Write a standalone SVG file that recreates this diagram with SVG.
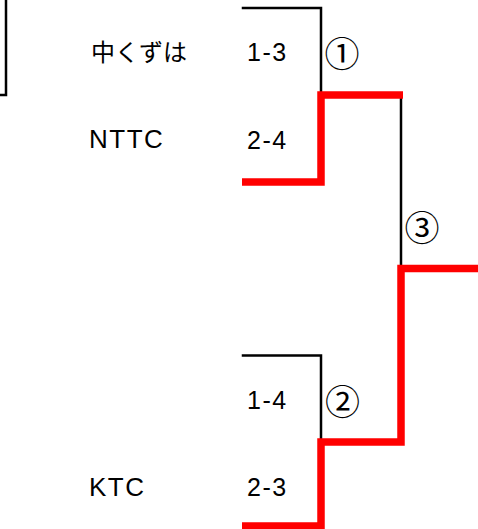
<svg xmlns="http://www.w3.org/2000/svg" width="478" height="529" viewBox="0 0 478 529">
<style>
.blk{fill:none;stroke:#000;stroke-width:2.5;stroke-linecap:square}
.red{fill:none;stroke:#ff0000;stroke-width:7.5;stroke-linejoin:miter}
.lbl{font-family:"Liberation Sans","Noto Sans CJK JP",sans-serif;font-size:26px;fill:#000}
.sc{font-family:"Liberation Sans","Noto Sans CJK JP",sans-serif;font-size:25px;fill:#000;letter-spacing:1.5px}
.cj{font-family:"Noto Sans CJK JP",sans-serif;font-size:24px;fill:#000}
.cn{font-family:"Noto Sans CJK JP",sans-serif;font-size:35px;fill:#000;text-anchor:middle}
</style>
<rect width="478" height="529" fill="#fff"/>
<g id="connectors">
  <path class="blk" d="M0,95 H6 V0"/>
  <path class="blk" d="M243,8 H321 V92"/>
  <path class="blk" d="M243,355.5 H321 V440"/>
  <path class="blk" d="M401,97 V266"/>
  <path class="red" d="M242,182 H321 V95 H403"/>
  <path class="red" d="M242,526 H321 V442 H401 V268.5 H478"/>
</g>
<g id="team-nakakuzuha"><text class="cj" x="91" y="61">中くずは</text></g>
<g id="team-nttc"><text class="lbl" x="89" y="148" letter-spacing="1.5">NTTC</text></g>
<g id="team-ktc"><text class="lbl" x="89" y="496" letter-spacing="1.5">KTC</text></g>
<g id="score-1-3"><text class="sc" x="247" y="61">1-3</text></g>
<g id="score-2-4"><text class="sc" x="247" y="149">2-4</text></g>
<g id="score-1-4"><text class="sc" x="247" y="409">1-4</text></g>
<g id="score-2-3"><text class="sc" x="247" y="496">2-3</text></g>
<g id="match-1"><text class="cn" x="342" y="66.5">①</text></g>
<g id="match-2"><text class="cn" x="342.5" y="414.5">②</text></g>
<g id="match-3"><text class="cn" x="422" y="240.5">③</text></g>
</svg>
